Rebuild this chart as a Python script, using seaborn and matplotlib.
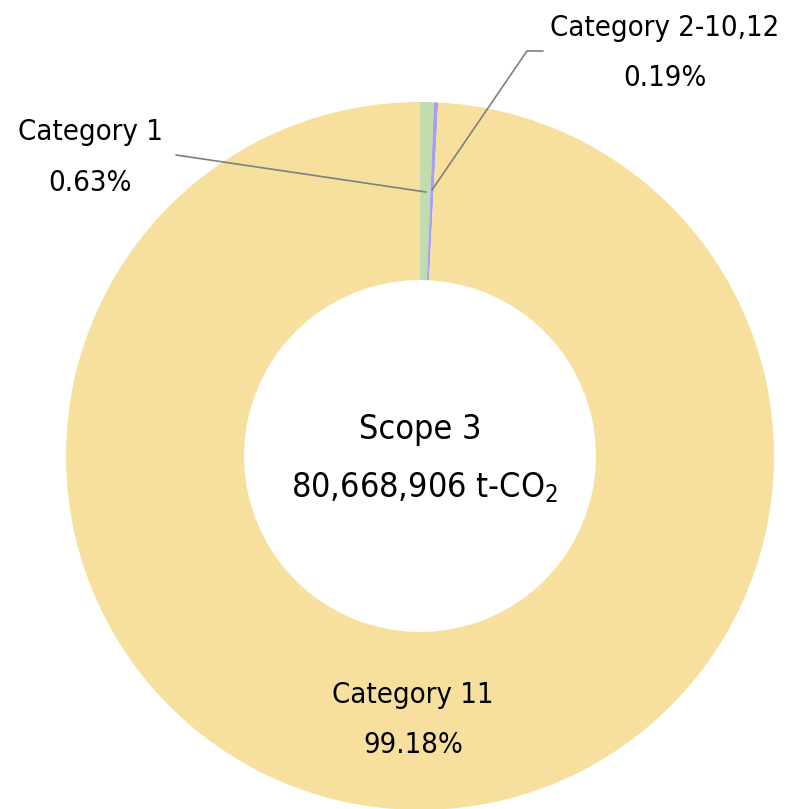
import matplotlib
matplotlib.use("Agg")
import matplotlib.pyplot as plt
import seaborn as sns

categories = ["Category 1", "Category 2-10,12", "Category 11"]
shares = [0.63, 0.19, 99.18]
share_labels = ["0.63%", "0.19%", "99.18%"]
colors = ["#c0dcae", "#a7a0ee", "#f7df9e"]
center_title = "Scope 3"
center_total = "80,668,906 t-CO$_2$"

sns.set_theme(style="white")
plt.rcParams["font.family"] = ["DejaVu Sans"]
plt.rcParams["font.stretch"] = "condensed"
plt.rcParams["mathtext.default"] = "regular"
plt.rcParams["text.color"] = "black"

CX, CY, R = 420, 456, 354

fig = plt.figure(figsize=(7.89, 8.09), dpi=100)
ax = fig.add_axes([0, 0, 1, 1])

ax.pie(shares, colors=colors, startangle=90, counterclock=False, radius=1.0,
       wedgeprops=dict(width=0.503, linewidth=0))
ax.set_aspect("auto")
ax.set_xlim(-CX / R, (789 - CX) / R)
ax.set_ylim(-(809 - CY) / R, CY / R)
ax.axis("off")

# pixel -> data helper for label positions
def px(x, y):
    return (x - CX) / R, (CY - y) / R

fs = 21
ax.text(*px(90, 132), categories[0], ha="center", va="center", fontsize=fs)
ax.text(*px(90, 183), share_labels[0], ha="center", va="center", fontsize=fs)
ax.plot(*zip(px(176, 155), px(426, 192)), color="#7f7f7f", lw=1.2)

ax.text(*px(665, 28), categories[1], ha="center", va="center", fontsize=fs)
ax.text(*px(665, 78), share_labels[1], ha="center", va="center", fontsize=fs)
ax.plot(*zip(px(543, 51), px(527, 51), px(432, 190)), color="#7f7f7f", lw=1.2)

ax.text(*px(413, 695), categories[2], ha="center", va="center", fontsize=fs)
ax.text(*px(413, 745), share_labels[2], ha="center", va="center", fontsize=fs)

ax.text(*px(420, 430), center_title, ha="center", va="center", fontsize=24.5)
ax.text(*px(425, 488), center_total, ha="center", va="center", fontsize=24.5)

fig.savefig("out.png", dpi=100)
